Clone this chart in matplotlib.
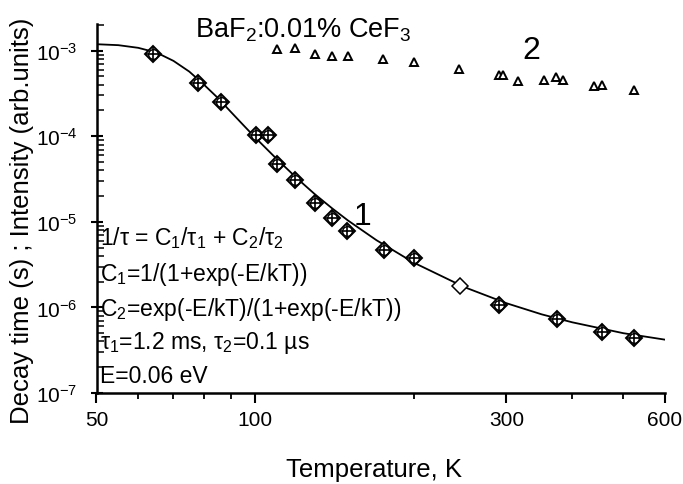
import matplotlib
matplotlib.use("Agg")
import matplotlib.pyplot as plt
from matplotlib.ticker import FixedLocator, FixedFormatter, LogLocator, NullFormatter

# ---------------- data ----------------
# series 1: decay time (diamond with cross)
s1_T = [64, 78, 86, 100.5, 106, 110, 119, 130, 140, 149.5, 175.5, 200, 291, 374, 455, 524]
s1_tau = [9.2e-4, 4.2e-4, 2.5e-4, 1.03e-4, 1.03e-4, 4.8e-5, 3.08e-5, 1.68e-5, 1.1e-5,
          7.8e-6, 4.7e-6, 3.8e-6, 1.08e-6, 7.4e-7, 5.2e-7, 4.4e-7]
# series 1: single open diamond
s1o_T = [245]
s1o_tau = [1.77e-6]
# series 2: intensity (open triangles)
s2_T = [110, 119, 130, 140, 150, 175, 200, 244, 290, 296, 315, 353, 373, 384, 439, 455, 525]
s2_I = [1.05e-3, 1.07e-3, 9.2e-4, 8.75e-4, 8.75e-4, 8.0e-4, 7.3e-4, 6.1e-4, 5.2e-4, 5.2e-4,
        4.4e-4, 4.5e-4, 4.9e-4, 4.5e-4, 3.85e-4, 4.0e-4, 3.5e-4]
# fit curve
fit_T = [50, 55, 60, 65, 70, 75, 80, 85, 90, 95, 100, 110, 120, 130, 140, 150, 170, 200,
         250, 300, 350, 400, 500, 600]
fit_tau = [1.19e-3, 1.16e-3, 1.08e-3, 9.5e-4, 7.6e-4, 5.7e-4, 4.0e-4, 2.8e-4, 1.92e-4,
           1.35e-4, 9.7e-5, 5.4e-5, 3.24e-5, 2.09e-5, 1.44e-5, 1.04e-5, 6.1e-6, 3.34e-6,
           1.72e-6, 1.12e-6, 8.3e-7, 6.7e-7, 5.0e-7, 4.2e-7]

x_major = [50, 100, 300, 600]
x_major_labels = ["50", "100", "300", "600"]
x_minor = [60, 70, 80, 90, 200, 400, 500]
y_major = [1e-7, 1e-6, 1e-5, 1e-4, 1e-3]
y_major_labels = ["10$^{-7}$", "10$^{-6}$", "10$^{-5}$", "10$^{-4}$", "10$^{-3}$"]

title_text = "BaF$_2$:0.01% CeF$_3$"
formula_lines = [
    "1/τ = C$_1$/τ$_1$ + C$_2$/τ$_2$",
    "C$_1$=1/(1+exp(-E/kT))",
    "C$_2$=exp(-E/kT)/(1+exp(-E/kT))",
    "τ$_1$=1.2 ms, τ$_2$=0.1 µs",
    "E=0.06 eV",
]

# ---------------- style ----------------
plt.rcParams["font.family"] = ["Liberation Sans", "DejaVu Sans"]
plt.rcParams["mathtext.fontset"] = "custom"
plt.rcParams["mathtext.rm"] = "Liberation Sans"
plt.rcParams["mathtext.it"] = "Liberation Sans:italic"
plt.rcParams["mathtext.bf"] = "Liberation Sans:bold"
plt.rcParams["mathtext.default"] = "regular"

fig = plt.figure(figsize=(6.83, 4.85), dpi=100)
ax = fig.add_axes([96.5 / 683, 1 - 394 / 485, (665 - 96.5) / 683, (394 - 25) / 485])
ax.set_xscale("log")
ax.set_yscale("log")
ax.set_xlim(50, 600)
ax.set_ylim(1e-7, 2.05e-3)

ax.plot(fit_T, fit_tau, color="black", lw=1.3, zorder=2)

# diamond + circle + cross markers
ax.plot(s1_T, s1_tau, ls="none", marker="D", ms=8.5, mfc="white", mec="black", mew=1.4, zorder=3)
ax.plot(s1_T, s1_tau, ls="none", marker="o", ms=7, mfc="none", mec="black", mew=1.0, zorder=4)
ax.plot(s1_T, s1_tau, ls="none", marker="+", ms=12, mec="black", mew=1.2, zorder=4)
ax.plot(s1o_T, s1o_tau, ls="none", marker="D", ms=8.5, mfc="white", mec="black", mew=1.1, zorder=3)

ax.plot(s2_T, s2_I, ls="none", marker="^", ms=6, mfc="white", mec="black", mew=1.4, zorder=3)

for side in ["top", "right"]:
    ax.spines[side].set_visible(False)
for side in ["left", "bottom"]:
    ax.spines[side].set_linewidth(1.8)

ax.xaxis.set_major_locator(FixedLocator(x_major))
ax.xaxis.set_major_formatter(FixedFormatter(x_major_labels))
ax.xaxis.set_minor_locator(FixedLocator(x_minor))
ax.xaxis.set_minor_formatter(NullFormatter())
ax.yaxis.set_major_locator(FixedLocator(y_major))
ax.yaxis.set_major_formatter(FixedFormatter(y_major_labels))
ax.yaxis.set_minor_locator(LogLocator(base=10, subs=range(2, 10), numticks=20))
ax.yaxis.set_minor_formatter(NullFormatter())

ax.tick_params(axis="x", which="major", direction="out", length=7.5, width=1.5, pad=5, labelsize=15)
ax.tick_params(axis="x", which="minor", direction="out", length=4, width=1.3)
ax.tick_params(axis="y", which="major", direction="inout", length=9, width=1.5, pad=9, labelsize=15)
ax.tick_params(axis="y", which="minor", direction="in", length=5, width=1.1)

# texts
fig.text(195 / 683, 1 - 38 / 485, title_text, fontsize=19.5, ha="left", va="baseline")
fig.text(531 / 683, 1 - 59 / 485, "2", fontsize=23, ha="center", va="baseline")
fig.text(362 / 683, 1 - 225 / 485, "1", fontsize=23, ha="center", va="baseline")

baselines = [245, 281, 316, 349, 383]
for line, yb in zip(formula_lines, baselines):
    fig.text(100 / 683, 1 - yb / 485, line, fontsize=16.5, ha="left", va="baseline")

fig.text(22 / 683, 1 - 221 / 485, "Decay time (s) ; Intensity (arb.units)", rotation=90,
         fontsize=18.5, ha="center", va="center")
fig.text(374 / 683, 1 - 477 / 485, "Temperature, K", fontsize=18.5, ha="center", va="baseline")

fig.savefig("out.png", dpi=100)
